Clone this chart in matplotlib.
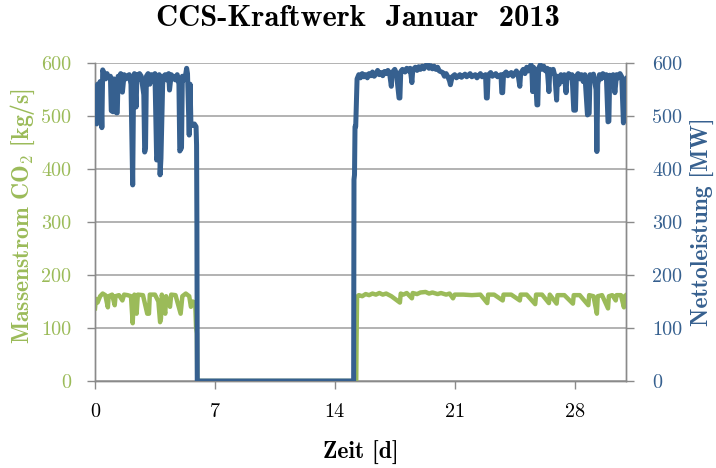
import matplotlib
matplotlib.use("Agg")
import matplotlib.pyplot as plt

plt.rcParams['mathtext.fontset'] = 'cm'
plt.rcParams['axes.unicode_minus'] = False

# ---------------- data ----------------
# Nettoleistung [MW] (blue, right axis)
power_t = [0.0, 0.05, 0.1, 0.15, 0.2, 0.3, 0.35, 0.4, 0.45, 0.55, 0.62, 0.7, 0.8, 0.9, 0.95, 1.05, 1.1,
           1.2, 1.25, 1.3, 1.35, 1.45, 1.5, 1.6, 1.7, 1.8, 1.9, 2.0, 2.1, 2.15, 2.2, 2.25, 2.3, 2.4, 2.45,
           2.55, 2.6, 2.7, 2.85, 2.9, 2.95, 3.0, 3.1, 3.2, 3.3, 3.4, 3.5, 3.55, 3.6, 3.7, 3.75, 3.8, 3.85,
           3.95, 4.0, 4.1, 4.2, 4.3, 4.35, 4.45, 4.55, 4.6, 4.7, 4.8, 4.9, 4.95, 5.05, 5.1, 5.2, 5.3, 5.35, 5.4, 5.45,
           5.5, 5.55, 5.6, 5.7, 5.8, 5.9, 5.93, 5.95, 5.97,
           15.1, 15.12, 15.15, 15.18, 15.22, 15.3,
           15.4, 15.5, 15.6, 15.7, 15.8, 15.9, 16.0, 16.1, 16.2, 16.3, 16.4, 16.5, 16.6, 16.7, 16.8,
           16.9, 17.0, 17.1, 17.2, 17.3, 17.35, 17.5, 17.6, 17.75, 17.8, 17.85, 17.95, 18.1, 18.2,
           18.3, 18.4, 18.5, 18.55, 18.7, 18.8, 18.9, 19.0, 19.1, 19.2, 19.3, 19.4, 19.5, 19.6,
           19.7, 19.8, 19.9, 20.0, 20.1, 20.3, 20.4, 20.5, 20.6, 20.7, 20.75, 20.85, 21.0, 21.1,
           21.3, 21.4, 21.6, 21.7, 21.9, 22.0, 22.2, 22.3, 22.5, 22.6, 22.8, 22.85, 22.9, 22.95,
           23.1, 23.2, 23.4, 23.5, 23.7, 23.75, 23.8, 23.85, 24.0, 24.1, 24.3, 24.4, 24.6, 24.7,
           24.8, 24.85, 25.0, 25.1, 25.2, 25.3, 25.45, 25.5, 25.55, 25.6, 25.7, 25.8, 25.85, 25.9,
           26.0, 26.1, 26.2, 26.3, 26.4, 26.5, 26.55, 26.65, 26.75, 26.85, 26.95, 27.0, 27.1, 27.2,
           27.3, 27.4, 27.5, 27.55, 27.65, 27.75, 27.85, 27.95, 28.05, 28.1, 28.2, 28.3, 28.4, 28.5,
           28.6, 28.75, 28.85, 28.9, 29.0, 29.1, 29.2, 29.25, 29.3, 29.35, 29.45, 29.55, 29.65,
           29.75, 29.85, 29.95, 30.0, 30.05, 30.15, 30.25, 30.35, 30.45, 30.55, 30.65, 30.75,
           30.85, 30.9, 31.0]
power_mw = [490, 555, 485, 560, 500, 565, 540, 478, 587, 578, 570, 580, 572, 575, 510, 508, 570,
            568, 506, 506, 575, 568, 580, 545, 578, 570, 576, 578, 560, 470, 370, 550, 580, 517, 578,
            570, 580, 575, 540, 432, 440, 575, 580, 560, 578, 568, 580, 500, 417, 430, 578, 389, 420,
            560, 575, 578, 568, 580, 549, 578, 570, 575, 568, 578, 560, 434, 440, 575, 568, 580, 590, 580, 520,
            464, 560, 485, 482, 485, 480, 445, 290, 0,
            0, 380, 389, 480, 480, 570,
            578, 572, 580, 574, 578, 572, 580, 576, 583, 575, 579, 586, 578, 582, 576,
            584, 580, 586, 580, 556, 582, 588, 580, 534, 534, 584, 588, 583, 590,
            585, 590, 563, 587, 592, 586, 593, 588, 594, 589, 595, 598, 590, 595,
            589, 594, 588, 592, 585, 582, 575, 580, 574, 566, 559, 574, 578, 572,
            578, 573, 579, 574, 580, 574, 578, 572, 580, 574, 578, 534, 534, 577,
            582, 575, 580, 574, 578, 544, 544, 578, 583, 576, 582, 575, 585, 578,
            556, 580, 588, 580, 592, 585, 597, 590, 546, 592, 585, 521, 521, 590,
            597, 588, 594, 585, 590, 546, 588, 580, 588, 575, 530, 575, 560, 578,
            565, 578, 544, 570, 580, 572, 578, 511, 511, 575, 580, 570, 578, 565,
            578, 502, 505, 578, 570, 579, 560, 550, 433, 560, 578, 570, 580,
            572, 578, 489, 490, 577, 570, 578, 544, 578, 572, 580, 574,
            487, 565, 570]

# Massenstrom CO2 [kg/s] (green, left axis)
co2_t = [0.0, 0.05, 0.15, 0.3, 0.45, 0.6, 0.75, 0.8, 1.0, 1.15, 1.2, 1.4, 1.6, 1.7, 1.9, 2.1,
         2.2, 2.25, 2.3, 2.43, 2.5, 2.8, 3.05, 3.15, 3.2, 3.5, 3.7, 3.8, 3.85, 3.9, 4.1, 4.15,
         4.38, 4.45, 4.7, 5.0, 5.1, 5.3, 5.5, 5.6, 5.7, 5.85, 5.9, 5.95, 5.97,
         15.25, 15.27, 15.3, 15.4, 15.6, 15.8, 16.0, 16.2, 16.4, 16.6, 16.8, 17.0, 17.3, 17.8,
         17.85, 18.0, 18.2, 18.5, 18.55, 18.8, 19.0, 19.3, 19.5, 19.7, 20.0, 20.2, 20.5, 20.7,
         20.9, 21.0, 21.5, 22.0, 22.5, 22.9, 22.95, 23.3, 23.8, 23.85, 24.3, 24.8, 24.85, 25.2,
         25.7, 25.75, 26.1, 26.5, 26.55, 26.95, 27.0, 27.4, 27.9, 27.95, 28.3, 28.8, 28.85,
         29.1, 29.3, 29.35, 29.6, 29.95, 30.0, 30.2, 30.4, 30.45, 30.7, 30.88, 30.92, 31.0]
co2_kgs = [137, 155, 148, 160, 165, 162, 139, 160, 163, 143, 160, 162, 152, 163, 162, 160,
           109, 145, 163, 127, 163, 162, 127, 127, 163, 163, 150, 111, 118, 163, 127, 160,
           140, 163, 162, 127, 160, 165, 160, 140, 150, 148, 102, 90, 0,
           0, 80, 159, 162, 160, 164, 162, 165, 163, 166, 163, 165, 160, 148,
           165, 163, 166, 156, 166, 164, 167, 168, 165, 167, 164, 166, 163, 165,
           156, 163, 163, 162, 163, 147, 163, 163, 152, 163, 163, 152, 163, 163,
           145, 163, 163, 147, 163, 146, 162, 162, 146, 162, 162, 143, 162,
           160, 127, 160, 162, 137, 160, 162, 152, 162, 162, 139, 160, 162]

x_ticks = [0, 7, 14, 21, 28]
y_ticks = [0, 100, 200, 300, 400, 500, 600]

# ---------------- style ----------------
GREEN = '#9BBB59'
BLUE = '#36608F'
GRID = '#A6A6A6'
SPINE = '#8A8A8A'

fig = plt.figure(figsize=(7.16, 4.68), dpi=100)
ax = fig.add_axes([95/716, 1-381/468, 531/716, 318/468])
ax2 = ax.twinx()

ax.plot(co2_t, co2_kgs, color=GREEN, lw=3.2, solid_joinstyle='round', zorder=3)
ax2.plot(power_t, power_mw, color=BLUE, lw=3.6, solid_joinstyle='round', zorder=3)

for a in (ax, ax2):
    a.set_xlim(0, 31)
    a.set_ylim(0, 600)
    a.set_yticks(y_ticks)
    a.spines['top'].set_visible(False)
    for s in ('left', 'right', 'bottom'):
        a.spines[s].set_color(SPINE)
        a.spines[s].set_linewidth(1.0)

ax.set_xticks(x_ticks)
ax.set_xticklabels([str(v) for v in x_ticks], fontfamily='cmr10', fontsize=14.5)
ax.set_yticklabels([str(v) for v in y_ticks], fontfamily='cmr10', fontsize=14.5, color=GREEN)
ax2.set_yticklabels([str(v) for v in y_ticks], fontfamily='cmr10', fontsize=14.5, color=BLUE)

ax.tick_params(axis='x', direction='out', length=6, width=1, color=SPINE, pad=10)
ax.tick_params(axis='y', direction='out', length=6, width=1, color=SPINE, pad=11)
ax2.tick_params(axis='y', direction='out', length=6, width=1, color=SPINE, pad=13)

ax.yaxis.grid(True, color=GRID, lw=1.2)
ax.set_axisbelow(True)

ax.set_xlabel('Zeit [d]', fontfamily='cmb10', fontsize=17, labelpad=14)
ax.set_ylabel(r'Massenstrom CO$_\mathbf{2}$ [kg/s]', fontfamily='cmb10', fontsize=17,
              color=GREEN, va='center')
ax2.set_ylabel('Nettoleistung [MW]', fontfamily='cmb10', fontsize=17, color=BLUE, va='center')
ax.yaxis.set_label_coords(-0.136, 0.52)
ax2.yaxis.set_label_coords(1.145, 0.50)

fig.suptitle('CCS-Kraftwerk  Januar  2013', fontfamily='cmb10', fontsize=22, y=0.99)

fig.savefig('out.png', dpi=100)
